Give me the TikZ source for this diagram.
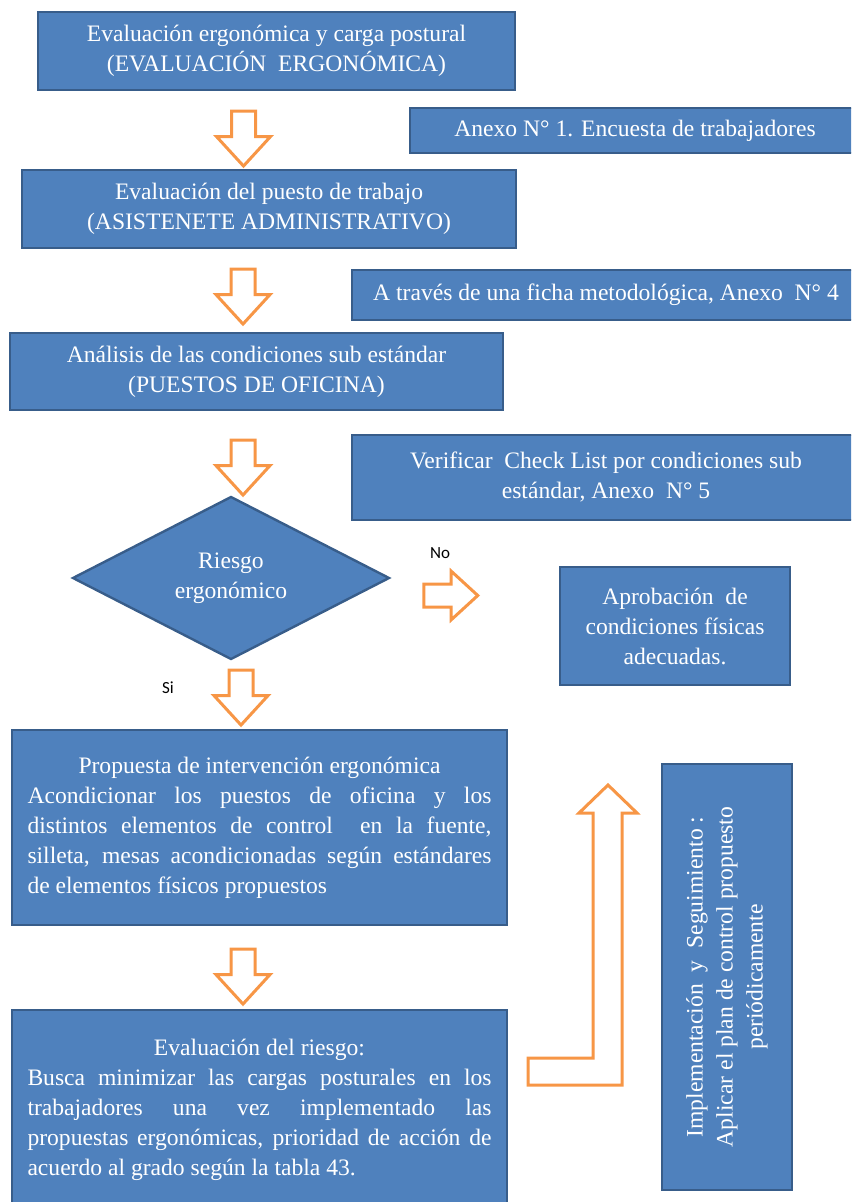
\documentclass[tikz,border=0pt]{standalone}
\usepackage{fontspec}
\setmainfont{Liberation Serif}
\newfontfamily\labelfont{Carlito}
\usetikzlibrary{shapes.geometric,shapes.arrows}
\definecolor{boxblue}{HTML}{4F81BD}
\definecolor{boxline}{HTML}{385D8A}
\definecolor{flecha}{HTML}{F79646}

\begin{document}
\begin{tikzpicture}[x=0.5pt, y=-0.5pt,
  box/.style={rectangle, draw=boxline, fill=boxblue, line width=1.2pt, text=white,
    align=center, inner sep=0pt, font=\fontsize{11.8}{15}\selectfont},
  decision/.style={diamond, aspect=2, draw=boxline, fill=boxblue, line width=1.2pt,
    text=white, align=center, inner sep=0pt, font=\fontsize{11.8}{15}\selectfont},
  hollow/.style={single arrow, draw=flecha, fill=white, line width=1.5pt,
    single arrow tip angle=85, inner xsep=0pt},
  fdown/.style={hollow, rotate=-90, minimum height=27.5pt, minimum width=25.5pt,
    inner ysep=5.25pt, single arrow head extend=7.5pt},
  fright/.style={hollow, minimum height=27pt, minimum width=23pt,
    inner ysep=5pt, single arrow head extend=6.5pt},
  tag/.style={font=\labelfont\fontsize{8.5}{10}\selectfont, text=black, inner sep=0pt}]

  \useasboundingbox (0,0) rectangle (851,1202);
  \clip (0,0) rectangle (851,1202);

  % main column
  \node (eval) [box, minimum width=238.5pt, minimum height=39pt] at (276.5,51)
    {Evaluación ergonómica y carga postural\\(EVALUACIÓN~~ERGONÓMICA)};
  \node (puesto) [box, minimum width=247pt, minimum height=39pt] at (269,209)
    {Evaluación del puesto de trabajo\\(ASISTENETE ADMINISTRATIVO)};
  \node (analisis) [box, minimum width=246.5pt, minimum height=38.5pt] at (256.5,371.5)
    {Análisis de las condiciones sub estándar\\(PUESTOS DE OFICINA)};
  \node (riesgo) [decision, minimum width=158.5pt, minimum height=81.5pt] at (231,578)
    {Riesgo\\ergonómico};
  \node (propuesta) [box, text width=232pt, align=justify, minimum width=247.5pt,
    minimum height=97.5pt] at (259.5,827.5)
    {{\centering Propuesta de intervención ergonómica\par}%
     Acondicionar los puestos de oficina y los\linebreak
     distintos elementos de control\ \ en la fuente,\linebreak
     silleta, mesas acondicionadas según estándares\linebreak
     de elementos físicos propuestos};
  \node (evriesgo) [box, text width=232pt, align=justify, minimum width=247.5pt,
    minimum height=100pt] at (259.5,1110)
    {{\centering Evaluación del riesgo:\par}%
     Busca minimizar las cargas posturales en los\linebreak
     trabajadores una vez implementado las\linebreak
     propuestas ergonómicas, prioridad de acción de\linebreak
     acuerdo al grado según la tabla 43.};

  % side boxes
  \node (anexo1) [box, minimum width=225pt, minimum height=22.5pt] at (635,130.5)
    {Anexo N° 1. Encuesta de trabajadores};
  \node (anexo4) [box, minimum width=254pt, minimum height=25pt] at (606,295)
    {A través de una ficha metodológica, Anexo~~N° 4};
  \node (anexo5) [box, minimum width=254pt, minimum height=42.5pt] at (606,477.5)
    {Verificar~~Check List por condiciones sub\\estándar, Anexo~~N° 5};
  \node (aprob) [box, minimum width=115pt, minimum height=59pt] at (675,626)
    {Aprobación~~de\\condiciones físicas\\adecuadas.};
  \node (impl) [box, rotate=90, minimum width=213pt, minimum height=65pt] at (727,977)
    {Implementación~~y~~Seguimiento~:\\Aplicar el plan de control propuesto\\periódicamente};

  % block arrows
  \node (f1) [fdown] at (243.5,132) {};
  \node (f2) [fdown] at (243,290) {};
  \node (f3) [fdown] at (243,461) {};
  \node (fsi) [fdown] at (241,691) {};
  \node (f5) [fdown] at (243,970) {};
  \node (fno) [fright] at (444.5,595.5) {};

  \node (no) [tag] at (440,553) {No};
  \node (si) [tag] at (168,688) {Si};

  % bent arrow back up
  \draw [draw=flecha, fill=white, line width=1.5pt, line join=miter]
    (608,785) -- (637,813) -- (622,813) -- (622,1085) -- (528,1085)
    -- (528,1058) -- (593,1058) -- (593,813) -- (579,813) -- cycle;
\end{tikzpicture}
\end{document}
